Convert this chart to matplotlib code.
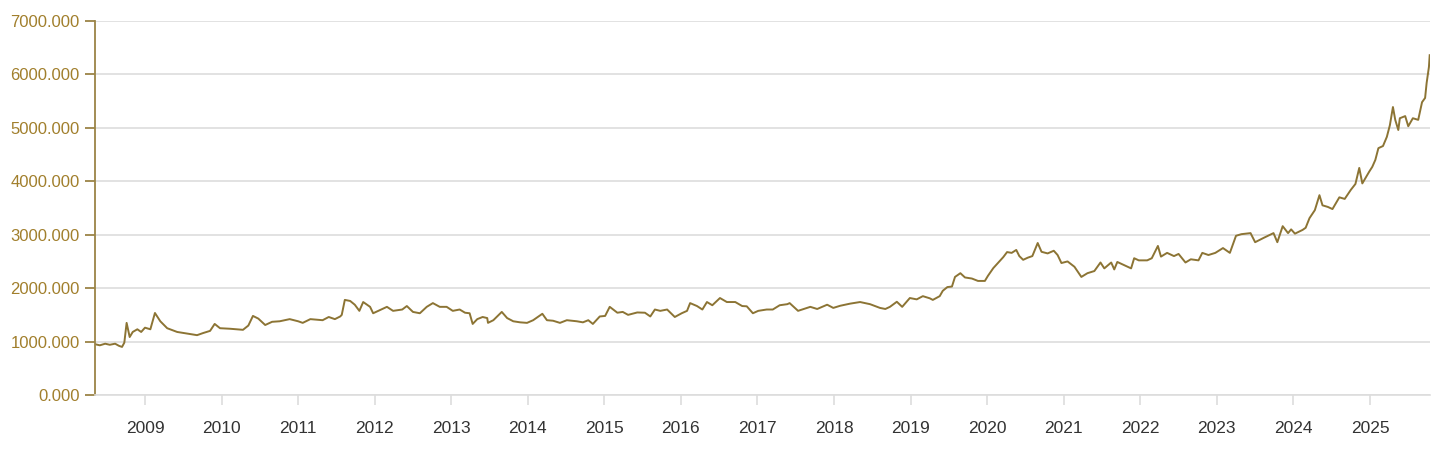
import matplotlib.pyplot as plt
from matplotlib.ticker import FuncFormatter

plt.rcParams['font.family'] = ['Liberation Sans', 'DejaVu Sans']

# decimal year / price
years = [
    2008.35, 2008.41, 2008.48, 2008.54, 2008.61, 2008.66, 2008.70, 2008.73, 2008.76, 2008.80,
    2008.84, 2008.90, 2008.95, 2009.00, 2009.07, 2009.13, 2009.20, 2009.29, 2009.42, 2009.59,
    2009.68, 2009.76, 2009.85, 2009.91, 2009.98, 2010.11, 2010.28, 2010.35, 2010.41, 2010.48,
    2010.57, 2010.66, 2010.76, 2010.89, 2011.00, 2011.06, 2011.16, 2011.32, 2011.40, 2011.48,
    2011.55, 2011.57, 2011.61, 2011.68, 2011.74, 2011.80, 2011.85, 2011.94, 2011.98, 2012.04,
    2012.16, 2012.24, 2012.36, 2012.42, 2012.50, 2012.59, 2012.68, 2012.76, 2012.85, 2012.94,
    2013.02, 2013.11, 2013.18, 2013.24, 2013.28, 2013.34, 2013.41, 2013.47, 2013.48, 2013.55,
    2013.66, 2013.73, 2013.81, 2013.90, 2013.99, 2014.07, 2014.19, 2014.25, 2014.33, 2014.42,
    2014.51, 2014.64, 2014.72, 2014.79, 2014.85, 2014.94, 2015.01, 2015.07, 2015.17, 2015.24,
    2015.31, 2015.43, 2015.53, 2015.60, 2015.66, 2015.73, 2015.82, 2015.92, 2016.01, 2016.08,
    2016.12, 2016.21, 2016.28, 2016.34, 2016.41, 2016.47, 2016.51, 2016.60, 2016.71, 2016.80,
    2016.86, 2016.94, 2017.01, 2017.12, 2017.20, 2017.29, 2017.39, 2017.42, 2017.53, 2017.69,
    2017.78, 2017.91, 2017.99, 2018.08, 2018.21, 2018.34, 2018.47, 2018.60, 2018.67, 2018.73,
    2018.82, 2018.89, 2018.99, 2019.08, 2019.16, 2019.25, 2019.29, 2019.38, 2019.42, 2019.48,
    2019.54, 2019.58, 2019.65, 2019.71, 2019.80, 2019.88, 2019.97, 2020.01, 2020.08, 2020.14,
    2020.21, 2020.26, 2020.32, 2020.38, 2020.42, 2020.47, 2020.53, 2020.59, 2020.66, 2020.71,
    2020.79, 2020.87, 2020.92, 2020.97, 2021.05, 2021.14, 2021.23, 2021.31, 2021.40, 2021.48,
    2021.53, 2021.62, 2021.66, 2021.70, 2021.79, 2021.88, 2021.92, 2021.98, 2022.09, 2022.15,
    2022.23, 2022.27, 2022.35, 2022.44, 2022.50, 2022.59, 2022.66, 2022.76, 2022.81, 2022.89,
    2022.98, 2023.08, 2023.17, 2023.25, 2023.32, 2023.44, 2023.50, 2023.61, 2023.74, 2023.79,
    2023.86, 2023.93, 2023.97, 2024.02, 2024.12, 2024.16, 2024.21, 2024.28, 2024.34, 2024.38,
    2024.45, 2024.51, 2024.60, 2024.67, 2024.75, 2024.81, 2024.86, 2024.90, 2024.99, 2025.03,
    2025.07, 2025.11, 2025.17, 2025.22, 2025.26, 2025.30, 2025.33, 2025.37, 2025.39, 2025.46,
    2025.50, 2025.56, 2025.63, 2025.68, 2025.72, 2025.74, 2025.77, 2025.78,
]
prices = [
    950, 930, 960, 940, 960, 920, 900, 980, 1350, 1085,
    1180, 1230, 1180, 1260, 1230, 1535, 1380, 1250, 1180, 1140,
    1120, 1160, 1200, 1330, 1250, 1240, 1220, 1300, 1480, 1430,
    1310, 1370, 1380, 1420, 1380, 1350, 1420, 1400, 1460, 1420,
    1470, 1500, 1780, 1760, 1690, 1575, 1740, 1650, 1530, 1570,
    1650, 1575, 1600, 1665, 1555, 1530, 1650, 1720, 1650, 1650,
    1575, 1600, 1540, 1530, 1330, 1420, 1460, 1440, 1350, 1400,
    1555, 1440, 1380, 1360, 1350, 1400, 1520, 1400, 1390, 1350,
    1400, 1380, 1360, 1400, 1330, 1470, 1480, 1650, 1540, 1555,
    1500, 1545, 1540, 1470, 1600, 1575, 1600, 1460, 1530, 1575,
    1720, 1665, 1600, 1740, 1680, 1760, 1815, 1740, 1740, 1665,
    1660, 1530, 1575, 1600, 1600, 1680, 1700, 1720, 1575, 1650,
    1610, 1690, 1630, 1670, 1710, 1740, 1700, 1630, 1610, 1650,
    1745, 1650, 1815, 1790, 1850, 1810, 1780, 1850, 1950, 2020,
    2030, 2210, 2280, 2200, 2180, 2135, 2135, 2230, 2375, 2470,
    2580, 2675, 2660, 2715, 2600, 2530, 2570, 2600, 2845, 2680,
    2650, 2700, 2620, 2470, 2500, 2400, 2210, 2280, 2320, 2480,
    2370, 2480, 2350, 2490, 2430, 2370, 2560, 2520, 2520, 2560,
    2790, 2590, 2660, 2600, 2640, 2480, 2540, 2520, 2660, 2620,
    2660, 2750, 2660, 2980, 3010, 3030, 2860, 2940, 3030, 2860,
    3160, 3030, 3100, 3020, 3090, 3130, 3310, 3460, 3740, 3550,
    3520, 3480, 3700, 3670, 3840, 3950, 4250, 3960, 4180, 4270,
    4400, 4620, 4660, 4830, 5050, 5390, 5150, 4960, 5180, 5220,
    5030, 5180, 5150, 5480, 5560, 5840, 6140, 6360,
]
year_ticks = list(range(2009, 2026))
price_ticks = [0, 1000, 2000, 3000, 4000, 5000, 6000, 7000]

gold = '#8c7434'
label_gold = '#a17f2c'

fig = plt.figure(figsize=(14.47, 4.54), dpi=100)
ax = fig.add_axes([95 / 1447, 1 - 395 / 454, (1430 - 95) / 1447, (395 - 21) / 454])

ax.plot(years, prices, color=gold, lw=1.4)

ax.set_xlim(2008.347, 2025.784)
ax.set_ylim(0, 7000)
ax.set_xticks(year_ticks)
ax.set_xticklabels([str(y) for y in year_ticks])
ax.set_yticks(price_ticks)
ax.yaxis.set_major_formatter(FuncFormatter(lambda v, p: f'{v:.3f}'))

ax.grid(axis='y', color='#dddddd', lw=1.2)
ax.set_axisbelow(True)
for s in ['top', 'right']:
    ax.spines[s].set_visible(False)
ax.spines['left'].set_color('#9b8447')
ax.spines['left'].set_linewidth(1.3)
ax.spines['bottom'].set_color('#dddddd')
ax.spines['bottom'].set_linewidth(1.2)

ax.tick_params(axis='y', colors='#9b8447', labelcolor=label_gold, labelsize=12,
               length=7, width=1.3, pad=4)
ax.tick_params(axis='x', colors='#dddddd', labelcolor='#333333', labelsize=12.5,
               length=7, width=1.2, pad=12)

fig.savefig('out.png', dpi=100)
